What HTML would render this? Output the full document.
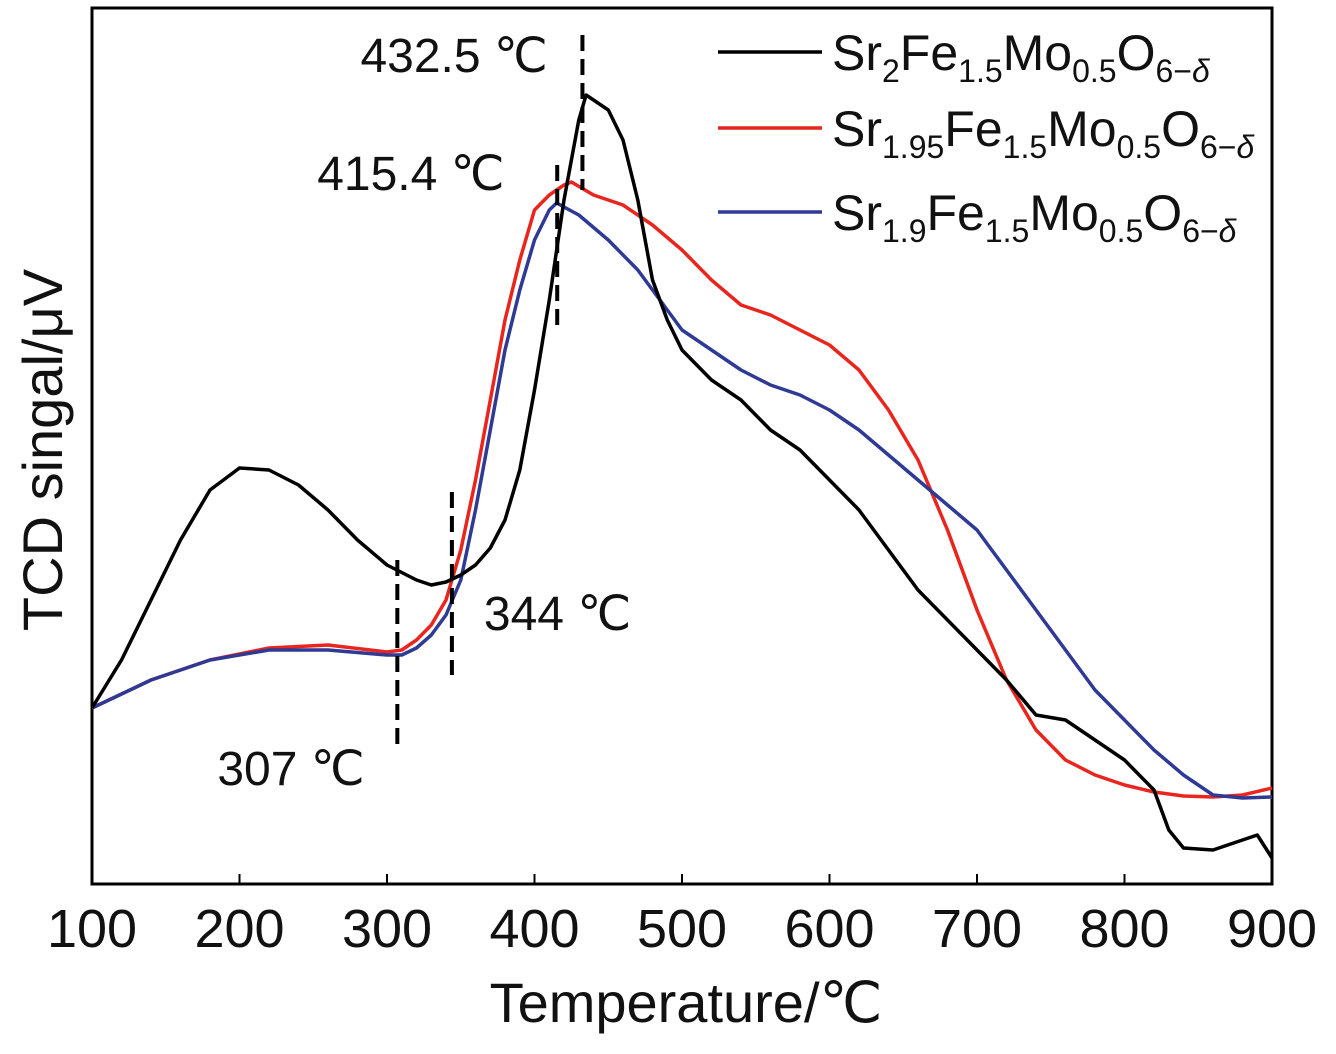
<!DOCTYPE html>
<html><head><meta charset="utf-8"><style>
body{margin:0;background:#fff}
svg text{font-family:"Liberation Sans",sans-serif;fill:#111}
.c{font-family:"Liberation Serif",serif}
</style></head><body>
<svg id="chart" width="1336" height="1049" xmlns="http://www.w3.org/2000/svg">
<rect x="92" y="8" width="1180" height="876" fill="none" stroke="#000" stroke-width="3"/>
<g id="ticks"></g>
<g id="series"></g>
<g id="marks"></g>
<text x="686" y="1022" font-size="56" text-anchor="middle">Temperature/<tspan class="c">℃</tspan></text>
<text transform="translate(62,450) rotate(-90)" font-size="56" text-anchor="middle">TCD singal/μV</text>
<g font-size="50">
 <line x1="718" y1="52" x2="822" y2="52" stroke="#000" stroke-width="3.5"/>
 <text x="832" y="70">Sr<tspan font-size="32" dy="12">2</tspan><tspan dy="-12">Fe</tspan><tspan font-size="32" dy="12">1.5</tspan><tspan dy="-12">Mo</tspan><tspan font-size="32" dy="12">0.5</tspan><tspan dy="-12">O</tspan><tspan font-size="32" dy="12">6−<tspan font-style="italic">δ</tspan></tspan></text>
 <line x1="718" y1="128" x2="822" y2="128" stroke="#e8261e" stroke-width="3.5"/>
 <text x="832" y="146">Sr<tspan font-size="32" dy="12">1.95</tspan><tspan dy="-12">Fe</tspan><tspan font-size="32" dy="12">1.5</tspan><tspan dy="-12">Mo</tspan><tspan font-size="32" dy="12">0.5</tspan><tspan dy="-12">O</tspan><tspan font-size="32" dy="12">6−<tspan font-style="italic">δ</tspan></tspan></text>
 <line x1="718" y1="212" x2="822" y2="212" stroke="#2e3a94" stroke-width="3.5"/>
 <text x="832" y="230">Sr<tspan font-size="32" dy="12">1.9</tspan><tspan dy="-12">Fe</tspan><tspan font-size="32" dy="12">1.5</tspan><tspan dy="-12">Mo</tspan><tspan font-size="32" dy="12">0.5</tspan><tspan dy="-12">O</tspan><tspan font-size="32" dy="12">6−<tspan font-style="italic">δ</tspan></tspan></text>
</g>
</svg>
<script>
const xTicks=[100,200,300,400,500,600,700,800,900];
const blackT=[100,120,140,160,180,200,220,240,260,280,300,320,330,340,350,360,370,380,390,400,410,420,430,435,440,450,460,470,480,490,500,520,540,560,580,600,620,640,660,680,700,720,740,760,780,800,820,830,840,860,880,890,900];
const blackV=[176,224,284,344,394,416,414,399,374,344,319,304,299,302,309,319,336,364,414,494,584,684,764,789,784,774,744,684,604,564,534,504,484,454,434,404,374,334,294,264,234,204,169,164,144,124,94,54,36,34,44,49,26];
const redT=[100,140,180,220,260,300,310,320,330,340,350,360,370,380,390,400,410,420,425,440,460,480,500,520,540,560,580,600,620,640,660,680,700,720,740,760,780,800,820,840,860,880,900];
const redV=[176,204,224,236,239,232,234,244,259,284,334,404,484,564,624,674,689,699,702,689,679,659,634,604,579,569,554,539,514,474,424,354,274,204,154,124,109,99,92,88,87,89,96];
const blueT=[100,140,180,220,260,300,310,320,330,340,350,360,370,380,390,400,410,415,430,450,470,490,500,520,540,560,580,600,620,640,660,680,700,720,740,760,780,800,820,840,860,880,900];
const blueV=[176,204,224,234,234,229,229,236,249,269,304,374,454,534,594,644,674,681,669,644,614,574,554,534,514,499,489,474,454,429,404,379,354,314,274,234,194,164,134,109,89,86,87];
const dashT=[307,344,415.4,432.5];
const dashTop=[324,392,719,849];
const dashBot=[139,209,559,694];
const dashNums=["307","344","415.4","432.5"];
const NS="http://www.w3.org/2000/svg";
const X=t=>92+(t-100)*1180/800;
const Y=v=>884-v;
function mk(tag,attrs,parent){const e=document.createElementNS(NS,tag);for(const k in attrs)e.setAttribute(k,attrs[k]);parent.appendChild(e);return e;}
const tg=document.getElementById('ticks');
xTicks.forEach(t=>{
 const l=mk('line',{x1:X(t),x2:X(t),y1:884,y2:874,stroke:'#000','stroke-width':2},tg);
 
 
 const tx=mk('text',{x:X(t),y:947,'font-size':54,'text-anchor':'middle'},tg);
 tx.textContent=t;
 
 
});
const sg=document.getElementById('series');
function draw(T,V,col,name){
 const d=T.map((t,i)=>(i?'L':'M')+X(t).toFixed(1)+','+Y(V[i]).toFixed(1)).join('');
 const p=mk('path',{d:d,fill:'none',stroke:col,'stroke-width':3.5,'stroke-linejoin':'round'},sg);
 
 
}
draw(redT,redV,'#e8261e','series-sr195');
draw(blueT,blueV,'#2e3a94','series-sr19');
draw(blackT,blackV,'#000','series-sr2');
const mg=document.getElementById('marks');
const lpos=[[-180,785],[32,630],[-240,190],[-222,72]];
dashT.forEach((t,i)=>{
 const l=mk('line',{x1:X(t),x2:X(t),y1:Y(dashTop[i]),y2:Y(dashBot[i]),stroke:'#000','stroke-width':4,'stroke-dasharray':'16,8'},mg);
 
 
 const tx=mk('text',{x:X(t)+lpos[i][0],y:lpos[i][1],'font-size':48},mg);
 
 
 tx.textContent=dashNums[i]+' ';
 const c=mk('tspan',{class:'c'},tx);
 c.textContent='℃';
});
</script>
</body></html>
